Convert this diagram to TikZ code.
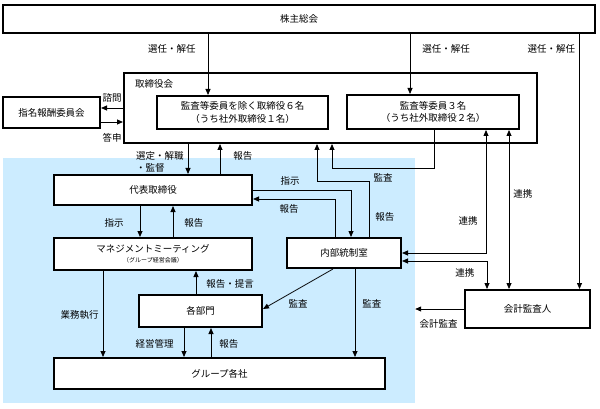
\documentclass[tikz,border=0pt]{standalone}
\usepackage{fontspec}
\setmainfont{Noto Sans CJK JP}
\usetikzlibrary{arrows.meta}
\definecolor{areablue}{RGB}{204,236,255}

\begin{document}
\begin{tikzpicture}[
    x=1pt, y=-1pt,
    font=\fontsize{9.5}{12.5}\selectfont,
    unit/.style={rectangle, draw, line width=2pt, fill=white, inner sep=1pt, align=center},
    lbl/.style={inner sep=1pt, align=left},
    directed/.style={-{Triangle[length=6pt,width=5pt]}, line width=0.8pt},
    mutual/.style={{Triangle[length=6pt,width=5pt]}-{Triangle[length=6pt,width=5pt]}, line width=0.8pt}
]
    \useasboundingbox (0,0) rectangle (600,409);

    % Group area
    \node[rectangle, fill=areablue, minimum width=412pt, minimum height=245pt, inner sep=0pt] (area) at (209,280.5) {};

    % Nodes
    \node[unit, minimum width=592pt, minimum height=28pt] (soukai) at (299,19) {株主総会};
    \node[unit, minimum width=413pt, minimum height=70pt] (board) at (330.5,108) {};
    \node[lbl, anchor=west] (boardname) at (134,84) {取締役会};
    \node[unit, minimum width=171pt, minimum height=33pt] (dir6) at (242.5,112.5) {監査等委員を除く取締役６名\\（うち社外取締役１名）};
    \node[unit, minimum width=172pt, minimum height=34pt] (kansa3) at (433,112) {監査等委員３名\\（うち社外取締役２名）};
    \node[unit, minimum width=97pt, minimum height=31pt] (nomi) at (51.5,112.5) {指名報酬委員会};
    \node[unit, minimum width=198pt, minimum height=30pt] (ceo) at (153,190) {代表取締役};
    \node[unit, minimum width=198pt, minimum height=32pt] (mm) at (153,254) {マネジメントミーティング\\[-3pt]{\fontsize{6}{7}\selectfont （グループ経営会議）}};
    \node[unit, minimum width=114pt, minimum height=30pt] (naibu) at (344,253) {内部統制室};
    \node[unit, minimum width=123pt, minimum height=32pt] (bumon) at (200.5,311) {各部門};
    \node[unit, minimum width=331pt, minimum height=31pt] (group) at (219.5,373.5) {グループ各社};
    \node[unit, minimum width=125pt, minimum height=38pt] (kaikei) at (527.5,309) {会計監査人};

    % Shareholders
    \draw[directed] ([xshift=-34.5]dir6.north |- soukai.south) -- node[lbl, left=11pt, pos=0.24] (sen1) {選任・解任} ([xshift=-34.5]dir6.north);
    \draw[directed] ([xshift=-23]kansa3.north |- soukai.south) -- node[lbl, right=11pt, pos=0.24] (sen2) {選任・解任} ([xshift=-23]kansa3.north);
    \draw[directed] ([xshift=52]kaikei.north |- soukai.south) -- node[lbl, left=3pt, pos=0.058] (sen3) {選任・解任} ([xshift=52]kaikei.north);

    % Board
    \draw[directed] (board.west) -- node[lbl, above=4pt] (shimon) {諮問} (board.west -| nomi.east);
    \draw[directed] ([yshift=-9.5]nomi.east) -- node[lbl, below=10pt] (toshin) {答申} ([yshift=-9.5]nomi.east -| board.west);
    \draw[directed] ([xshift=35]ceo.north |- board.south) -- node[lbl, left=3pt, pos=0.6] (sentei) {選定・解職\\・監督} ([xshift=35]ceo.north);
    \draw[directed] ([xshift=67]ceo.north) -- node[lbl, right=12pt, pos=0.6] (hok1) {報告} ([xshift=67]ceo.north |- board.south);

    % Executive
    \draw[directed] ([xshift=-13]ceo.south) -- node[lbl, left=15pt, pos=0.55] (shiji1) {指示} ([xshift=-13]mm.north);
    \draw[directed] ([xshift=20]mm.north) -- node[lbl, right=10pt, pos=0.45] (hok2) {報告} ([xshift=20]ceo.south);
    \draw[directed] (ceo.east) -| node[lbl, above=3pt, pos=0.19] (shiji2) {指示} ([xshift=7]naibu.north);
    \draw[directed] ([xshift=-9]naibu.north) |- node[lbl, below=4pt, pos=0.78] (hok3) {報告} ([yshift=-9]ceo.east);

    % Internal control
    \draw[directed] ([xshift=25]naibu.north) -- node[lbl, right=5pt, pos=0.36] (hok4) {報告} ([xshift=25,yshift=56]naibu.north) -| ([xshift=-13.5]board.south);
    \draw[directed] ([xshift=1]kansa3.south) -- ([xshift=1,yshift=-38]kansa3.south) -| node[lbl, below=4pt, pos=0.25] (kan1) {監査} ([xshift=1.5]board.south);
    \draw[directed] ([xshift=-11]naibu.south) -- node[lbl, below=9pt] (kan2) {監査} ([yshift=2]bumon.east);
    \draw[directed] ([xshift=11]naibu.south) -- node[lbl, right=6pt, pos=0.39] (kan3) {監査} ([xshift=135.5]group.north);

    % Cooperation
    \draw[mutual] ([xshift=53]kansa3.south) |- node[lbl, left=7pt, pos=0.37] (ren1) {連携} (naibu.east);
    \draw[mutual] ([yshift=-8]naibu.east) -| node[lbl, below=6pt, pos=0.37] (ren2) {連携} ([xshift=-40.5]kaikei.north);
    \draw[mutual] ([xshift=76]kansa3.south) -- node[lbl, right=3pt, pos=0.4] (ren3) {連携} ([xshift=-18.5]kaikei.north);
    \draw[directed] (kaikei.west) -- node[lbl, below=9pt, pos=0.52] (kaikan) {会計監査} (kaikei.west -| area.east);

    % Group companies
    \draw[directed] ([xshift=-50]mm.south) -- node[lbl, left=3pt, pos=0.51] (gyomu) {業務執行} ([xshift=-116.5]group.north);
    \draw[directed] ([xshift=-4.5]bumon.north) -- node[lbl, right=9pt, pos=0.44] (teigen) {報告・提言} ([xshift=43]mm.south);
    \draw[directed] ([xshift=-16.5]bumon.south) -- node[lbl, left=9pt, pos=0.55] (keiei) {経営管理} ([xshift=-35.5]group.north);
    \draw[directed] ([xshift=-8.5]group.north) -- node[lbl, right=7pt, pos=0.45] (hok5) {報告} ([xshift=10.5]bumon.south);
\end{tikzpicture}
\end{document}
